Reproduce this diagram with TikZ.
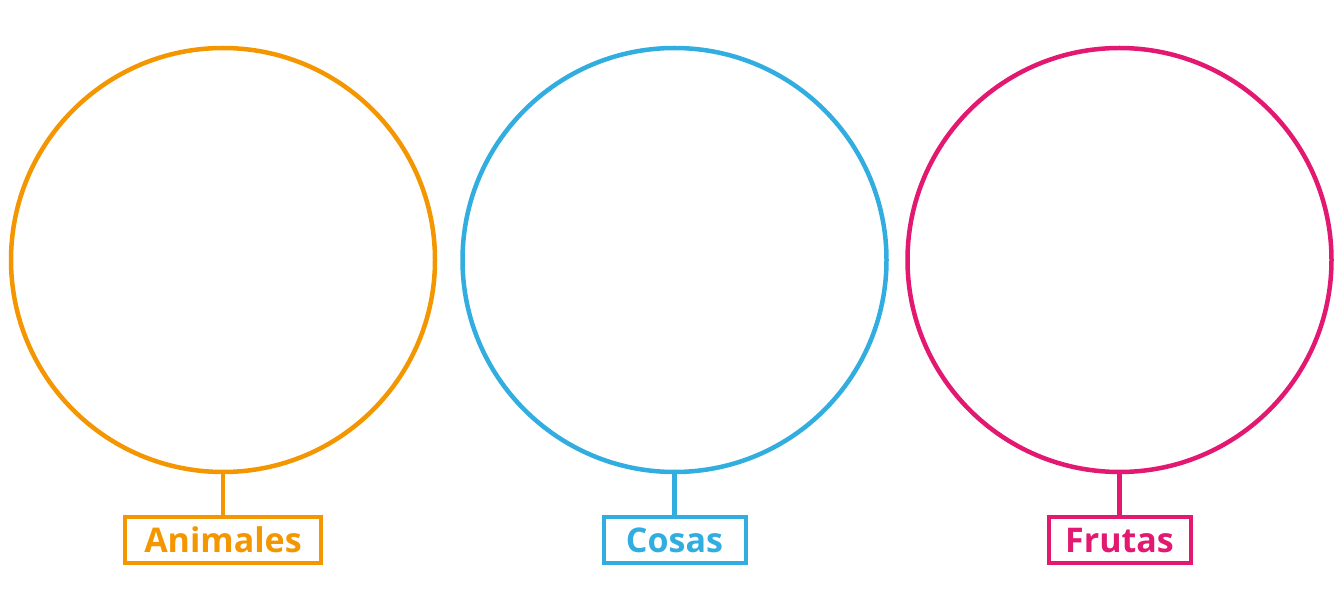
\documentclass[tikz,border=0pt]{standalone}
\usepackage{fontspec}
\setmainfont{Open Sans}
\usetikzlibrary{positioning}
\definecolor{naranja}{RGB}{243,150,0}
\definecolor{celeste}{RGB}{49,173,224}
\definecolor{rosa}{RGB}{226,24,113}
\tikzset{
  grupo/.style={circle, line width=4.5pt, minimum size=424pt, inner sep=0pt},
  etiqueta/.style={rectangle, line width=4pt, minimum height=46pt, inner sep=0pt,
    font=\fontsize{34}{40}\selectfont\bfseries},
  enlace/.style={line width=4.5pt}
}
\begin{document}
\begin{tikzpicture}[x=1pt, y=1pt]
        \useasboundingbox (0,0) rectangle (1339,608);
        \foreach \cx/\name/\col/\txt/\ancho in {223/animales/naranja/Animales/196,
          674.5/cosas/celeste/Cosas/142, 1119.5/frutas/rosa/Frutas/142}{
          \node[grupo, draw=\col] (\name) at (\cx, 348) {};
          \node[etiqueta, draw=\col, text=\col, minimum width=\ancho pt,
            below=41pt of \name] (\name Lbl) {\txt};
          \draw[enlace, \col] (\name) -- (\name Lbl);
        }
      \end{tikzpicture}
\end{document}
